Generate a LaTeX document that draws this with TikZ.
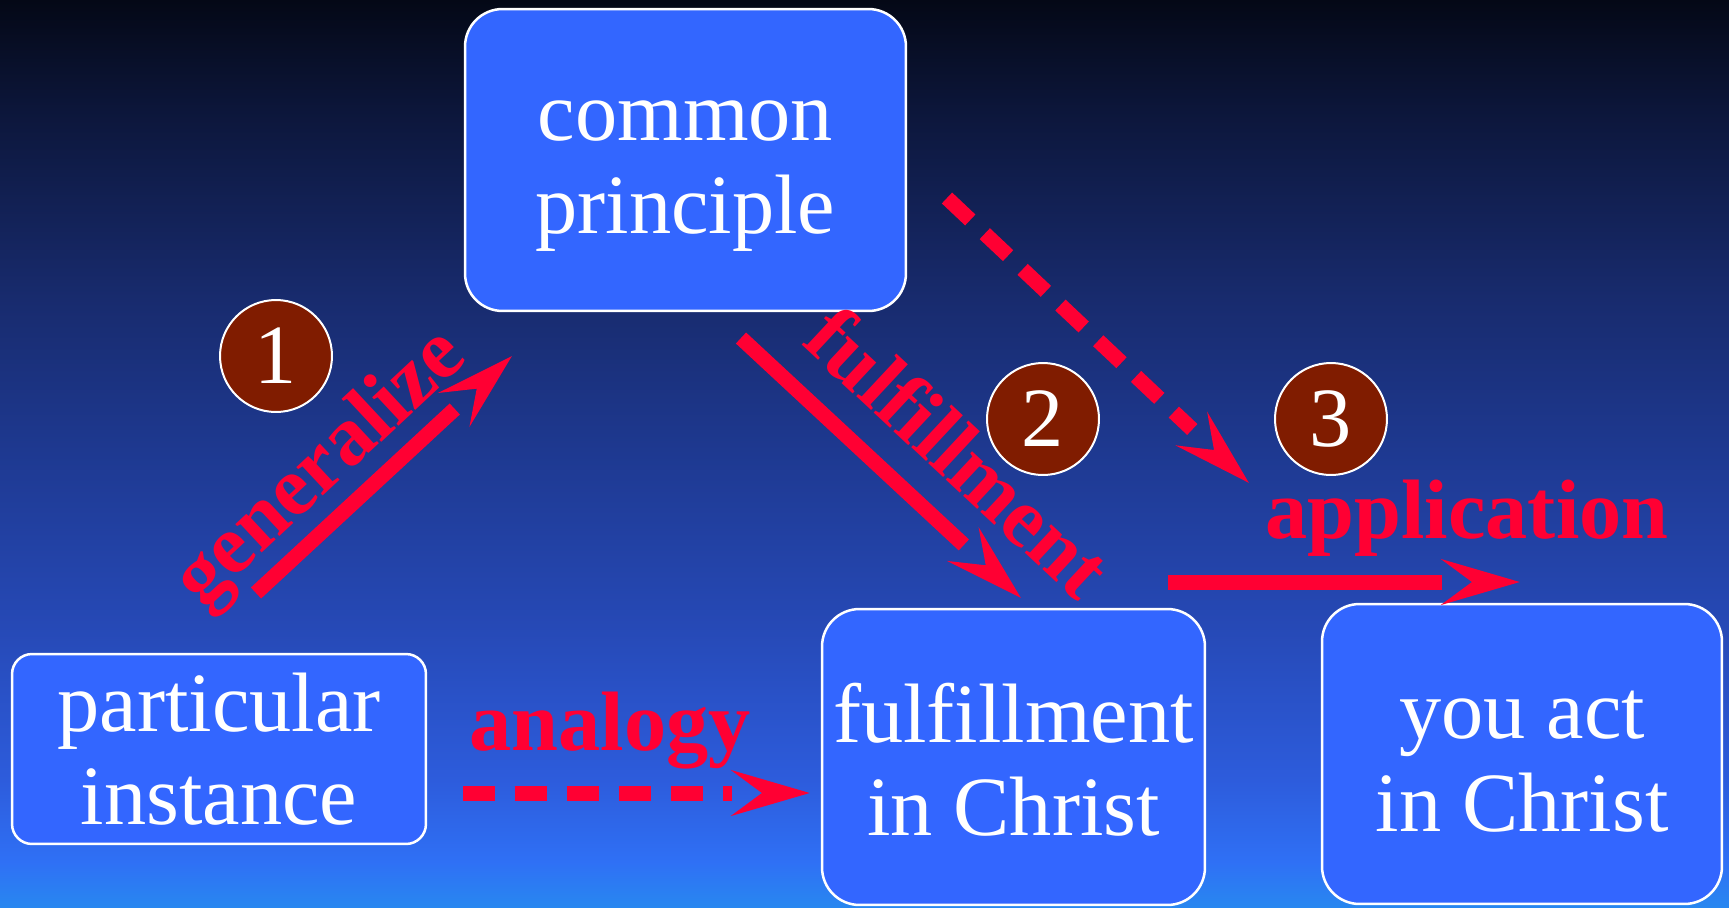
\documentclass[tikz,border=0pt]{standalone}
\usepackage{fontspec}
\setmainfont{Liberation Serif}
\usetikzlibrary{arrows.meta}

\definecolor{cardblue}{RGB}{51,102,255}
\definecolor{linkred}{RGB}{255,0,51}
\definecolor{stepbrown}{RGB}{128,28,0}
\definecolor{bgA}{RGB}{40,135,240}
\definecolor{bgB}{RGB}{47,112,245}
\definecolor{bgC}{RGB}{45,92,220}
\definecolor{bgD}{RGB}{38,73,182}
\definecolor{bgE}{RGB}{30,57,145}
\definecolor{bgF}{RGB}{24,43,110}
\definecolor{bgG}{RGB}{12,22,58}
\definecolor{bgH}{RGB}{4,8,22}
% only 25bp..75bp of a shading ends up inside the path
\pgfdeclareverticalshading{slidebg}{100bp}{color(0bp)=(bgA); color(25bp)=(bgA);
  color(27.5bp)=(bgB); color(32bp)=(bgC); color(40.5bp)=(bgD); color(50bp)=(bgE);
  color(58.5bp)=(bgF); color(69bp)=(bgG); color(75bp)=(bgH); color(100bp)=(bgH)}

\begin{document}
\begin{tikzpicture}[
    x=0.02cm, y=-0.02cm,
    >={Stealth[length=1.56cm, width=0.9cm, inset=0.6cm]},
    card/.style={draw=white, line width=0.05cm, fill=cardblue, text=white,
                 rounded corners=0.75cm, align=center, inner sep=0pt,
                 font=\fontsize{48}{53}\selectfont},
    stepno/.style={circle, draw=white, line width=0.04cm, fill=stepbrown,
                   minimum size=2.24cm, inner sep=0pt, text=white,
                   font=\fontsize{48}{53}\selectfont},
    lbl/.style={text=linkred, inner sep=0pt,
                font=\fontsize{48}{53}\selectfont\bfseries},
    % line stops at the back of the head, head drawn on its own
    link/.style={draw=linkred, line width=0.3cm, shorten >=1.56cm,
                 postaction={draw, shorten >=0pt,
                             dash pattern=on 0pt off 100cm, ->}},
    dlink/.style={link, dash pattern=on 0.64cm off 0.4cm}
  ]
  \useasboundingbox (0,0) rectangle (1729,907);
  \shade[shading=slidebg] (0,0) rectangle (1729,907);

  % the four boxes
  \node[card, minimum width=8.82cm, minimum height=6.04cm] (principle)
    at (685.5,160) {\rule{0pt}{1.44cm}common\\principle};
  \node[card, minimum width=8.28cm, minimum height=3.8cm,
        rounded corners=0.4cm] (instance) at (219,749) {particular\\instance};
  \node[card, minimum width=7.66cm, minimum height=5.92cm] (fulfil)
    at (1013.5,757) {\rule{0pt}{1.28cm}fulfillment\\in Christ};
  \node[card, minimum width=8cm, minimum height=6cm] (act)
    at (1522,754) {\rule{0pt}{1.26cm}you act\\in Christ};

  % numbered steps
  \node[stepno] (s1) at (276,356) {1};
  \node[stepno] (s2) at (1043,419) {2};
  \node[stepno] (s3) at (1331,419) {3};

  % arrow ends
  \coordinate (g1) at (256,593);  \coordinate (g2) at (512,356);
  \coordinate (f1) at (741,338);  \coordinate (f2) at (1021,598);
  \coordinate (d1) at (947,198);  \coordinate (d2) at (1249,483);
  \coordinate (a1) at (1168,582); \coordinate (a2) at (1520,582);
  \coordinate (n1) at (463,793);  \coordinate (n2) at (810,793);

  \draw[link] (g1) -- (g2);
  \draw[link] (f1) -- (f2);
  \draw[dlink] (d1) -- (d2);
  \draw[link] (a1) -- (a2);
  \draw[dlink] (n1) -- (n2);

  % labels
  \node[lbl, rotate=43] (lgen) at (322,470) {generalize};
  \node[lbl, rotate=-43] (lful) at (959,452) {fulfillment};
  \node[lbl] (lana) at (610,731) {analogy};
  \node[lbl] (lapp) at (1467,518) {application};
\end{tikzpicture}
\end{document}
